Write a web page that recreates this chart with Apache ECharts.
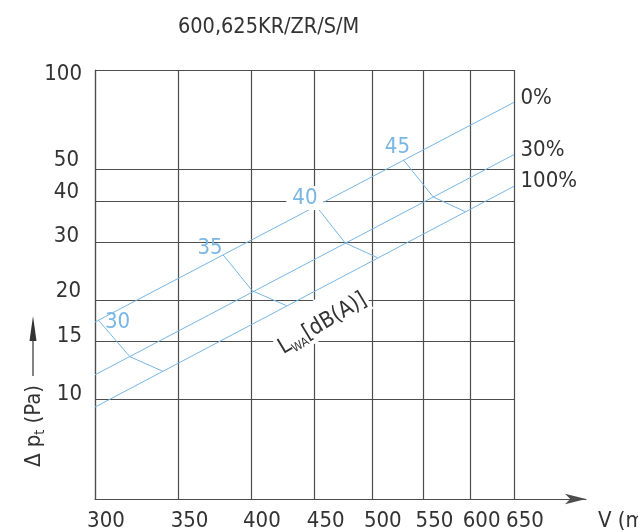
<!DOCTYPE html>
<html>
<head>
<meta charset="utf-8">
<script src="https://cdn.jsdelivr.net/npm/echarts@6/dist/echarts.min.js"></script>
<style>
  html, body { margin: 0; padding: 0; background: #fff; }
  #chart { width: 638px; height: 532px; }
</style>
</head>
<body>
<div id="chart"></div>
<script>
const FONT = '"DejaVu Sans Condensed", "Liberation Sans Narrow", "Liberation Sans", sans-serif';

const titleText = '600,625KR/ZR/S/M';
const flowRange = [300, 650];
const pressureRange = [5, 100];
const flowTicks = [300, 350, 400, 450, 500, 550, 600, 650];
const pressureTicks = [10, 15, 20, 30, 40, 50, 100];

// damper position characteristics, [V m³/h, Δp Pa]
const openingNames = ['0%', '30%', '100%'];
const opening0 = [[300, 17.2], [650, 79.8]];
const opening30 = [[300, 11.9], [650, 55.4]];
const opening100 = [[300, 9.5], [650, 44.4]];

// sound power isolines L_WA, running 0% -> 30% -> 100%
const soundLevels = [30, 35, 40, 45];
const sound30 = [[302, 17.4], [320, 13.5], [340, 12.2]];
const sound35 = [[380, 27.5], [401, 21.4], [427, 19.3]];
const sound40 = [[451, 38.7], [476, 29.9], [505, 27.0]];
const sound45 = [[530, 53.4], [560, 41.2], [594, 37.2]];

const INK = '#333';
const GRID = '#4d4d4d';
const BLUE = '#78b6e4';
const FS = 22;

// small per-label nudges of the pressure tick labels [dx, dy]
const yLabelNudge = { 100: [0, 4], 50: [-3, -9], 40: [-3, -9], 30: [-3, -6], 20: [-1, -9], 15: [0, -5], 10: [0, -5] };
const yRich = {};
pressureTicks.forEach(v => {
  const [dx, dy] = yLabelNudge[v] || [0, 0];
  yRich['p' + v] = {
    fontSize: FS, fontFamily: FONT, color: INK,
    padding: [dy > 0 ? 2 * dy : 0, dx < 0 ? -dx : 0, dy < 0 ? -2 * dy : 0, 0]
  };
});

// where each isoline's level label sits relative to its first point
const soundLabelOffset = { 30: [19, 2], 35: [-13, -7], 40: [-11, -8], 45: [-6, -13] };

const lineLabelBase = { fontSize: FS, fontFamily: FONT, color: INK };

function openingSeries(name, pts) {
  return {
    type: 'line', name, xAxisIndex: 0, yAxisIndex: 0,
    symbol: 'circle', symbolSize: 1, showSymbol: true,
    itemStyle: { color: 'rgba(0,0,0,0)' },
    lineStyle: { color: BLUE, width: 1 },
    clip: false, silent: true,
    data: pts.map((p, i) => i === pts.length - 1
      ? { value: p, label: Object.assign({ show: true, formatter: name, position: 'right', distance: 6, offset: [0, -4.5] }, lineLabelBase) }
      : p)
  };
}

function soundSeries(level, pts) {
  const label = {
    show: true, formatter: String(level), position: 'inside',
    offset: soundLabelOffset[level], fontSize: FS, fontFamily: FONT, color: BLUE
  };
  if (level === 40) { label.backgroundColor = '#fff'; label.padding = [1, 6]; }
  return {
    type: 'line', name: 'L' + level, xAxisIndex: 0, yAxisIndex: 0,
    symbol: 'circle', symbolSize: 1, showSymbol: true,
    itemStyle: { color: 'rgba(0,0,0,0)' },
    lineStyle: { color: BLUE, width: 1 },
    clip: false, silent: true,
    data: pts.map((p, i) => i === 0 ? { value: p, label } : p)
  };
}

const series = [
  openingSeries(openingNames[0], opening0),
  openingSeries(openingNames[1], opening30),
  openingSeries(openingNames[2], opening100),
  soundSeries(soundLevels[0], sound30),
  soundSeries(soundLevels[1], sound35),
  soundSeries(soundLevels[2], sound40),
  soundSeries(soundLevels[3], sound45)
];

// isoline quantity annotation
series[2].markPoint = {
  symbol: 'circle', symbolSize: 0, silent: true,
  data: [{ coord: [454, 17.6] }],
  label: {
    show: true, position: 'inside', rotate: 31,
    formatter: '{m|L}{s|WA}{m|[dB(A)]}',
    backgroundColor: '#fff', padding: [12, 2, 0, 2],
    rich: {
      m: { fontSize: FS, fontFamily: FONT, color: INK, lineHeight: 26 },
      s: { fontSize: 12, fontFamily: FONT, color: INK, lineHeight: 26, verticalAlign: 'bottom' }
    }
  }
};

const chart = echarts.init(document.getElementById('chart'), null, { renderer: 'canvas' });
chart.setOption({
  animation: false,
  backgroundColor: '#fff',
  title: {
    text: titleText, left: 178, top: 16, padding: 0,
    textStyle: { fontSize: 21.5, fontWeight: 'normal', fontFamily: FONT, color: INK }
  },
  grid: [
    { left: 95, right: 124, top: 70, bottom: 33, outerBoundsMode: 'none', containLabel: false },
    { left: 95, right: 52, top: 70, bottom: 33, outerBoundsMode: 'none', containLabel: false }
  ],
  xAxis: [
    {
      type: 'log', logBase: 10, gridIndex: 0,
      min: flowRange[0], max: flowRange[1],
      axisLine: { show: false, onZero: false },
      axisTick: { show: false, customValues: flowTicks },
      axisLabel: {
        customValues: flowTicks, margin: 11, padding: [0, 0, 0, 22],
        fontSize: FS, fontFamily: FONT, color: INK, formatter: v => String(Math.round(v))
      },
      splitLine: { show: true, lineStyle: { color: GRID, width: 1.2 } }
    },
    {
      type: 'value', gridIndex: 1, min: 0, max: 1,
      name: 'V (m³/h)', nameLocation: 'end', nameGap: 12,
      nameTextStyle: { fontSize: FS, fontFamily: FONT, color: INK, align: 'left', verticalAlign: 'top', padding: [11, 0, 0, 0] },
      axisLine: { show: true, onZero: false, symbol: ['none', 'arrow'], symbolSize: [8, 21], lineStyle: { color: GRID, width: 1.2 } },
      axisTick: { show: false }, axisLabel: { show: false }, splitLine: { show: false }
    }
  ],
  yAxis: [
    {
      type: 'log', logBase: 10, gridIndex: 0,
      min: pressureRange[0], max: pressureRange[1],
      axisLine: { show: true, onZero: false, lineStyle: { color: GRID, width: 1.2 } },
      axisTick: { show: false, customValues: pressureTicks },
      axisLabel: {
        customValues: pressureTicks, margin: 13,
        formatter: v => '{p' + Math.round(v) + '|' + Math.round(v) + '}',
        rich: yRich
      },
      splitLine: { show: true, lineStyle: { color: GRID, width: 1.2 } }
    },
    { type: 'value', gridIndex: 1, show: false, min: 0, max: 1 }
  ],
  graphic: [
    {
      type: 'text', x: 34, y: 426, rotation: Math.PI / 2, silent: true,
      style: {
        text: '{m|Δ p}{s|t}{m| (Pa)}', align: 'center', verticalAlign: 'middle',
        rich: {
          m: { fontSize: FS, fontFamily: FONT, fill: INK, lineHeight: 26 },
          s: { fontSize: 14, fontFamily: FONT, fill: INK, lineHeight: 26, verticalAlign: 'bottom' }
        }
      }
    },
    { type: 'line', silent: true, shape: { x1: 33, y1: 376, x2: 33, y2: 336 }, style: { stroke: INK, lineWidth: 1.2 } },
    { type: 'polygon', silent: true, shape: { points: [[33, 316], [29.5, 341], [36.5, 341]] }, style: { fill: INK } }
  ],
  series
});
</script>
</body>
</html>
